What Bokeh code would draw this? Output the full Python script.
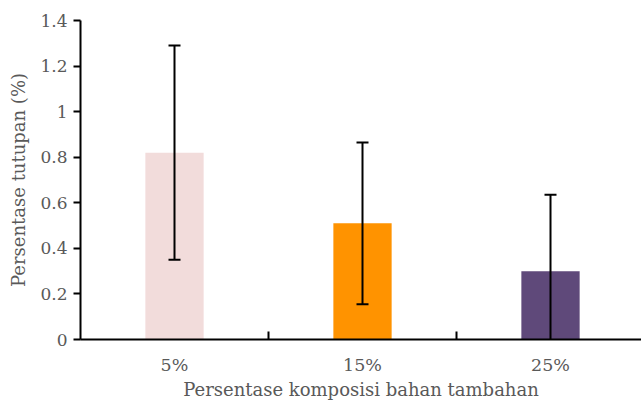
from bokeh.plotting import figure
from bokeh.models import ColumnDataSource, FixedTicker, Range1d
from bokeh.embed import file_html
from bokeh.resources import INLINE

# ---- data ----
categories = ["5%", "15%", "25%"]
means = [0.82, 0.51, 0.30]
errors = [0.47, 0.355, 0.335]
bar_colors = ["#f2dcdb", "#ff9300", "#5f497a"]
y_ticks = [0, 0.2, 0.4, 0.6, 0.8, 1.0, 1.2, 1.4]
y_tick_labels = ["0", "0.2", "0.4", "0.6", "0.8", "1", "1.2", "1.4"]
x_title = "Persentase komposisi bahan tambahan"
y_title = "Persentase tutupan (%)"

xs = [i + 0.5 for i in range(len(categories))]
upper = [m + e for m, e in zip(means, errors)]
lower = [m - e for m, e in zip(means, errors)]

src = ColumnDataSource(dict(x=xs, top=means, color=bar_colors, upper=upper, lower=lower))

FONT = "DejaVu Serif"
GREY = "#595959"

p = figure(frame_width=561, frame_height=319,
           x_range=Range1d(0, 2.984), y_range=Range1d(0, 1.4),
           output_backend="svg", toolbar_location=None,
           min_border_left=80, min_border_right=0, min_border_top=20, min_border_bottom=64)
p.outline_line_color = None
p.xgrid.visible = False
p.ygrid.visible = False
p.background_fill_color = "white"
p.border_fill_color = "white"

p.vbar(x="x", top="top", width=0.31, fill_color="color", line_color=None, source=src)
p.segment(x0="x", y0="lower", x1="x", y1="upper", line_color="black", line_width=2, source=src)
p.dash(x="x", y="upper", size=12, line_color="black", line_width=2, source=src)
p.dash(x="x", y="lower", size=12, line_color="black", line_width=2, source=src)

# x axis
xa = p.xaxis[0]
xa.ticker = FixedTicker(ticks=xs, minor_ticks=[1, 2])
xa.major_label_overrides = {x: c for x, c in zip(xs, categories)}
xa.major_tick_in = 0
xa.major_tick_out = 0
xa.minor_tick_in = 8
xa.minor_tick_out = 0
xa.minor_tick_line_width = 2
xa.minor_tick_line_color = "black"
xa.axis_line_width = 2
xa.axis_line_color = "black"
xa.major_label_text_font = FONT
xa.major_label_text_font_size = "17.5px"
xa.major_label_text_color = GREY
xa.major_label_standoff = 15
xa.axis_label = x_title
xa.axis_label_text_font = FONT
xa.axis_label_text_font_size = "18px"
xa.axis_label_text_font_style = "normal"
xa.axis_label_text_color = GREY
xa.axis_label_standoff = 1

# y axis
ya = p.yaxis[0]
ya.ticker = FixedTicker(ticks=y_ticks, minor_ticks=[])
ya.major_label_overrides = {t: l for t, l in zip(y_ticks, y_tick_labels)}
ya.major_tick_in = 0
ya.major_tick_out = 7
ya.major_tick_line_width = 2
ya.minor_tick_line_color = None
ya.axis_line_width = 2
ya.axis_line_color = "black"
ya.major_label_text_font = FONT
ya.major_label_text_font_size = "17px"
ya.major_label_text_color = GREY
ya.major_label_standoff = 6
ya.axis_label = y_title
ya.axis_label_text_font = FONT
ya.axis_label_text_font_size = "18px"
ya.axis_label_text_font_style = "normal"
ya.axis_label_text_color = GREY
ya.axis_label_standoff = 8

open("out.html", "w").write(file_html(p, INLINE))
